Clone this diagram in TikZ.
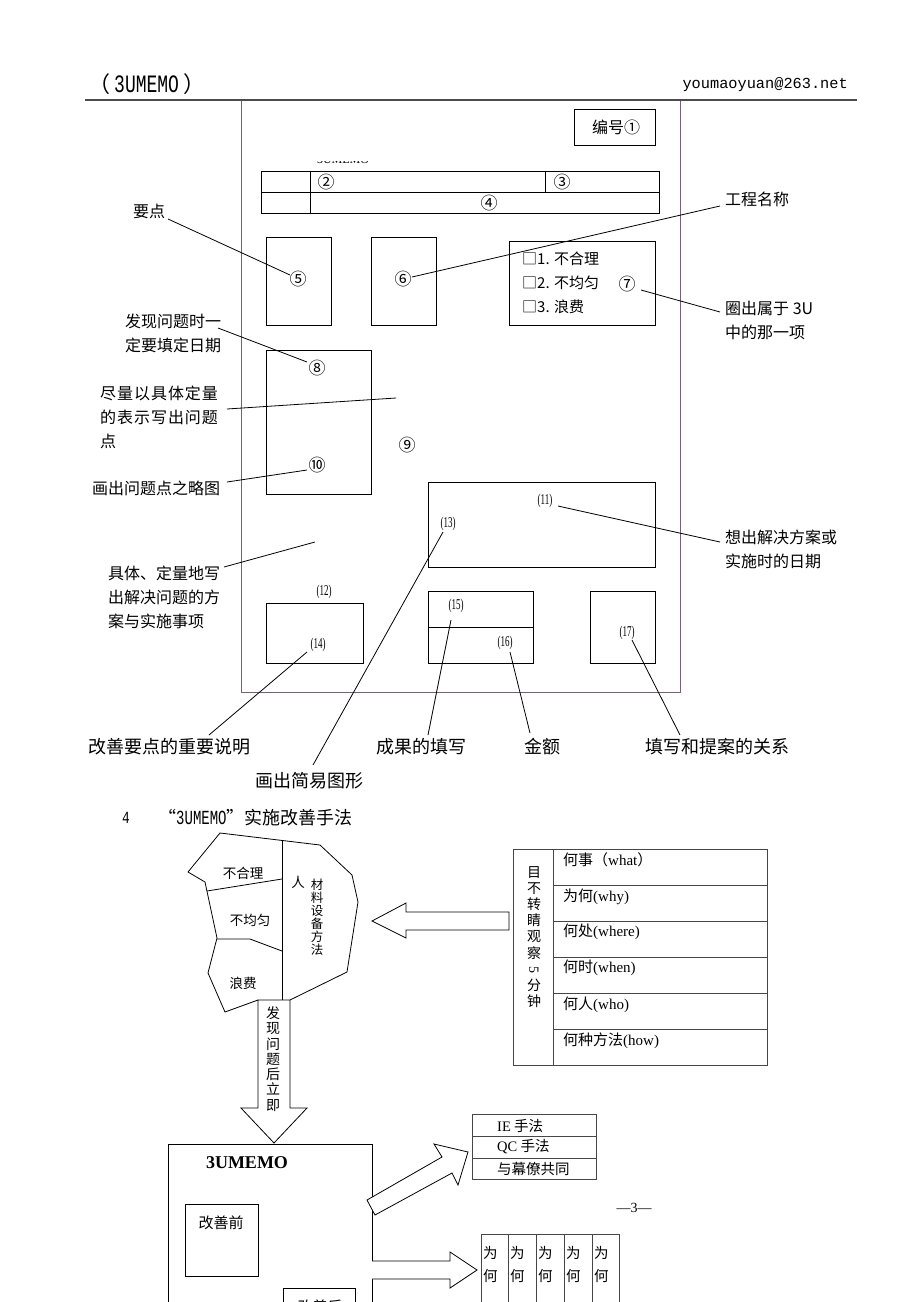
\documentclass[tikz,border=0pt]{standalone}
\usepackage{fontspec}
\usepackage{graphicx}
\setmainfont{Liberation Serif}
\newfontfamily\cjk{Noto Sans CJK SC}
\newfontfamily\cjksp[LetterSpace=6]{Noto Sans CJK SC}
\newfontfamily\mono{Liberation Mono}
\definecolor{formc}{RGB}{120,95,120}
\definecolor{tblc}{RGB}{70,70,70}
\tikzset{
  lbl/.style={inner sep=0, anchor=west, align=left, font=\cjk\fontsize{16}{24}\selectfont},
  blbl/.style={inner sep=0, anchor=west, font=\cjk\fontsize{18}{18}\selectfont},
  num/.style={inner sep=0, font=\cjk\fontsize{17}{17}\selectfont},
  pnum/.style={inner sep=0, font=\fontsize{15}{15}\selectfont},
  box/.style={draw, line width=0.8pt},
  lead/.style={line width=0.8pt},
  hollow/.style={draw, line width=0.8pt, fill=white, line join=miter},
  txt/.style={inner sep=0, anchor=west, font=\cjk\fontsize{15}{15}\selectfont},
}
\newcommand{\pn}[1]{\scalebox{0.6}[1]{(#1)}}
\begin{document}
\begin{tikzpicture}[x=1pt,y=-1pt]
\useasboundingbox (0,0) rectangle (920,1302);
\fill[white] (0,0) rectangle (920,1302);

% ---------- header ----------
\node[inner sep=0, anchor=west] (hdl) at (88,84) {{\cjk\fontsize{22}{22}\selectfont （}\hspace{4pt}\scalebox{0.72}[1]{\mono\fontsize{25}{25}\selectfont 3UMEMO}\hspace{4pt}{\cjk\fontsize{22}{22}\selectfont ）}};
\node[inner sep=0, anchor=east, font=\mono\fontsize{15.3}{15.3}\selectfont] (hdr) at (848,85) {youmaoyuan@263.net};

% ---------- form ----------
\draw[formc, line width=0.9pt] (241,100) rectangle (680,692);
\draw[line width=1.6pt, black!70] (85,100) -- (857,100);

\draw[box] (574,109) rectangle (655,145);
\node[inner sep=0, font=\cjk\fontsize{16}{16}\selectfont] (n1) at (616,127) {编号①};

\begin{scope}
\clip (300,161.5) rectangle (400,172);
\node[inner sep=0, font=\fontsize{12}{12}\selectfont] (memo0) at (343,160) {3UMEMO};
\end{scope}

\draw[box] (261,171) rectangle (659,213);
\draw[box] (261,192) -- (659,192);
\draw[box] (310,171) -- (310,213);
\draw[box] (545,171) -- (545,192);
\node[num] (n2) at (326,182) {②};
\node[num] (n3) at (562,182) {③};
\node[num] (n4) at (489,203) {④};

\draw[box] (266,237) rectangle (331,325);
\node[num] (n5) at (298,279) {⑤};
\draw[box] (371,237) rectangle (436,325);
\node[num] (n6) at (403,279) {⑥};
\draw[box] (509,241) rectangle (655,325);
\node[txt] (o1) at (522,259) {□1. 不合理};
\node[txt] (o2) at (522,283) {□2. 不均匀};
\node[txt] (o3) at (522,307) {□3. 浪费};
\node[num] (n7) at (627,284) {⑦};

\draw[box] (266,350) rectangle (371,494);
\node[num] (n8) at (317,368) {⑧};
\node[num] (n10) at (317,465) {⑩};
\node[num] (n9) at (407,445) {⑨};

\draw[box] (428,482) rectangle (655,567);
\node[pnum] (n11) at (545,501) {\pn{11}};
\node[pnum] (n13) at (448,524) {\pn{13}};

\node[pnum] (n12) at (324,592) {\pn{12}};
\draw[box] (266,603) rectangle (363,663);
\node[pnum] (n14) at (318,645) {\pn{14}};

\draw[box] (428,591) rectangle (533,663);
\draw[box] (428,627) -- (533,627);
\node[pnum] (n15) at (456,606) {\pn{15}};
\node[pnum] (n16) at (505,643) {\pn{16}};

\draw[box] (590,591) rectangle (655,663);
\node[pnum] (n17) at (627,633) {\pn{17}};

% ---------- labels ----------
\node[lbl] (Lyd) at (133,211) {要点};
\node[lbl] (Lgc) at (725,199) {工程名称};
\node[lbl] (Lqc) at (725,320) {圈出属于 3U\\中的那一项};
\node[lbl] (Lfx) at (125,333.5) {发现问题时一\\定要填定日期};
\node[lbl, font=\cjksp\fontsize{16}{24}\selectfont] (Ljl) at (100,417.5) {尽量以具体定量\\的表示写出问题\\点};
\node[lbl] (Llt) at (92,488) {画出问题点之略图};
\node[lbl] (Ljt) at (108,597) {具体、定量地写\\出解决问题的方\\案与实施事项};
\node[lbl] (Lxc) at (725,549) {想出解决方案或\\实施时的日期};

\node[blbl] (Bgs) at (88,747) {改善要点的重要说明};
\node[blbl] (Bjy) at (255,781) {画出简易图形};
\node[blbl] (Bcg) at (376,747) {成果的填写};
\node[blbl] (Bje) at (524,747) {金额};
\node[blbl] (Btx) at (645,747) {填写和提案的关系};

% leader coordinates
\coordinate (a1) at (168,219); \coordinate (a2) at (290,275);
\coordinate (b1) at (720,206); \coordinate (b2) at (412,277);
\coordinate (c1) at (641,290); \coordinate (c2) at (720,312);
\coordinate (d1) at (218,328); \coordinate (d2) at (307,362);
\coordinate (e1) at (227,409); \coordinate (e2) at (396,398);
\coordinate (f1) at (227,482); \coordinate (f2) at (307,470);
\coordinate (g1) at (224,567); \coordinate (g2) at (315,542);
\coordinate (h1) at (558,506); \coordinate (h2) at (720,542);
\coordinate (i1) at (307,652); \coordinate (i2) at (209,735);
\coordinate (j1) at (443,532); \coordinate (j2) at (313,765);
\coordinate (k1) at (451,620); \coordinate (k2) at (428,735);
\coordinate (l1) at (510,652); \coordinate (l2) at (530,733);
\coordinate (m1) at (632,640); \coordinate (m2) at (680,735);
\foreach \p in {a,b,c,d,e,f,g,h,i,j,k,l,m} \draw[lead] (\p1) -- (\p2);

% ---------- section 4 ----------
\node[inner sep=0, anchor=west, font=\mono\fontsize{17}{17}\selectfont] (sec4) at (122,818) {\scalebox{0.75}[1]{4}};
\node[inner sep=0, anchor=west] (sec4t) at (158,818) {{\cjk\fontsize{18}{18}\selectfont “}\scalebox{0.7}[1]{\mono\fontsize{20}{20}\selectfont 3UMEMO}{\cjk\fontsize{18}{18}\selectfont ”实施改善手法}};

% blob
\draw[line width=0.8pt, line join=round] (290,1000) -- (347,972) -- (358,902) -- (352,875) -- (320,845) -- (220,833) -- (188,872) -- (205,882) -- (217,938) -- (208,973) -- (225,1012) -- (258,1000);
\draw[lead] (282,840) -- (282,1000);
\draw[lead] (207,891) -- (282,879);
\draw[lead] (217,939) -- (250,939) -- (282,951);
\node[inner sep=0, font=\cjk\fontsize{13.5}{13.5}\selectfont] (f1t) at (243,873) {不合理};
\node[inner sep=0, font=\cjk\fontsize{13.5}{13.5}\selectfont] (f2t) at (250,920) {不均匀};
\node[inner sep=0, font=\cjk\fontsize{13.5}{13.5}\selectfont] (f3t) at (243,983) {浪费};
\node[inner sep=0, font=\cjk\fontsize{13.5}{13.5}\selectfont] (f4t) at (298,882) {人};
\node[inner sep=0, align=center, font=\cjk\fontsize{12.5}{13}\selectfont] (f5t) at (317,917) {材\\料\\设\\备\\方\\法};

% down arrow
\draw[hollow] (258,1000) -- (290,1000) -- (290,1108) -- (307,1108) -- (274,1143) -- (241,1108) -- (258,1108) -- cycle;
\node[inner sep=0, align=center, font=\cjk\fontsize{14}{15.3}\selectfont] (dtxt) at (273,1059) {发\\现\\问\\题\\后\\立\\即};

% 5W1H table
\draw[tblc, line width=0.8pt] (513,849) rectangle (767,1065);
\draw[tblc, line width=0.8pt] (553,849) -- (553,1065);
\foreach \yy in {885,921,957,993,1029} \draw[tblc, line width=0.8pt] (553,\yy) -- (767,\yy);
\node[inner sep=0, align=center, font=\cjk\fontsize{14}{16.2}\selectfont] (v5) at (534,937) {目\\不\\转\\睛\\观\\察\\\rotatebox[origin=c]{-90}{\rmfamily 5}\\分\\钟};
\node[txt] (w1) at (563,860) {何事（{\rmfamily what}）};
\node[txt] (w2) at (563,897) {为何{\rmfamily (why)}};
\node[txt] (w3) at (563,932) {何处{\rmfamily (where)}};
\node[txt] (w4) at (563,968) {何时{\rmfamily (when)}};
\node[txt] (w5) at (563,1005) {何人{\rmfamily (who)}};
\node[txt] (w6) at (563,1041) {何种方法{\rmfamily (how)}};

% left arrow
\draw[hollow] (509,912) -- (406,912) -- (406,903) -- (372,921) -- (406,938) -- (406,930) -- (509,930) -- cycle;

% 3UMEMO box
\draw[line width=0.8pt] (168,1310) -- (168,1144) -- (372,1144) -- (372,1310);
\node[inner sep=0, font=\bfseries\fontsize{18}{18}\selectfont] (memo) at (247,1163) {3UMEMO};
\draw[box] (185,1204) rectangle (258,1276);
\node[inner sep=0, font=\cjk\fontsize{15}{15}\selectfont] (gsq) at (221,1223) {改善前};
\draw[box] (283,1288) rectangle (355,1320);
\begin{scope}
\clip (283,1288) rectangle (355,1302);
\node[inner sep=0, font=\cjk\fontsize{15}{15}\selectfont] (gsh) at (320,1307) {改善后};
\end{scope}

% diagonal arrow
\draw[hollow] (367,1200) -- (442,1157) -- (434,1144) -- (468,1152) -- (458,1185) -- (452,1173) -- (375,1215) -- cycle;

% IE table
\draw[tblc, line width=0.8pt] (472,1114) rectangle (596,1179);
\draw[tblc, line width=0.8pt] (472,1136) -- (596,1136);
\draw[tblc, line width=0.8pt] (472,1158) -- (596,1158);
\node[inner sep=0, anchor=west, font=\cjk\fontsize{14.5}{14.5}\selectfont] (ie) at (497,1126) {{\rmfamily IE} 手法};
\node[inner sep=0, anchor=west, font=\cjk\fontsize{14.5}{14.5}\selectfont] (qc) at (497,1147) {{\rmfamily QC} 手法};
\node[inner sep=0, anchor=west, font=\cjk\fontsize{14.5}{14.5}\selectfont] (mlg) at (497,1169) {与幕僚共同};

\node[inner sep=0, font=\fontsize{14}{14}\selectfont] (pg) at (634,1208) {—3—};

% right arrow
\draw[hollow] (372,1261) -- (450,1261) -- (450,1252) -- (477,1270) -- (450,1288) -- (450,1279) -- (372,1279);

% why table
\draw[tblc, line width=0.8pt] (481,1234) -- (619,1234);
\foreach \xx in {481,508,536,564,592,619} \draw[tblc, line width=0.8pt] (\xx,1234) -- (\xx,1310);
\foreach \xx/\nm in {483/y1,510/y2,538/y3,566/y4,594/y5}
  \node[inner sep=0, anchor=west, align=left, font=\cjk\fontsize{14.5}{23}\selectfont] (\nm) at (\xx,1264.5) {为\\何};
\end{tikzpicture}
\end{document}
